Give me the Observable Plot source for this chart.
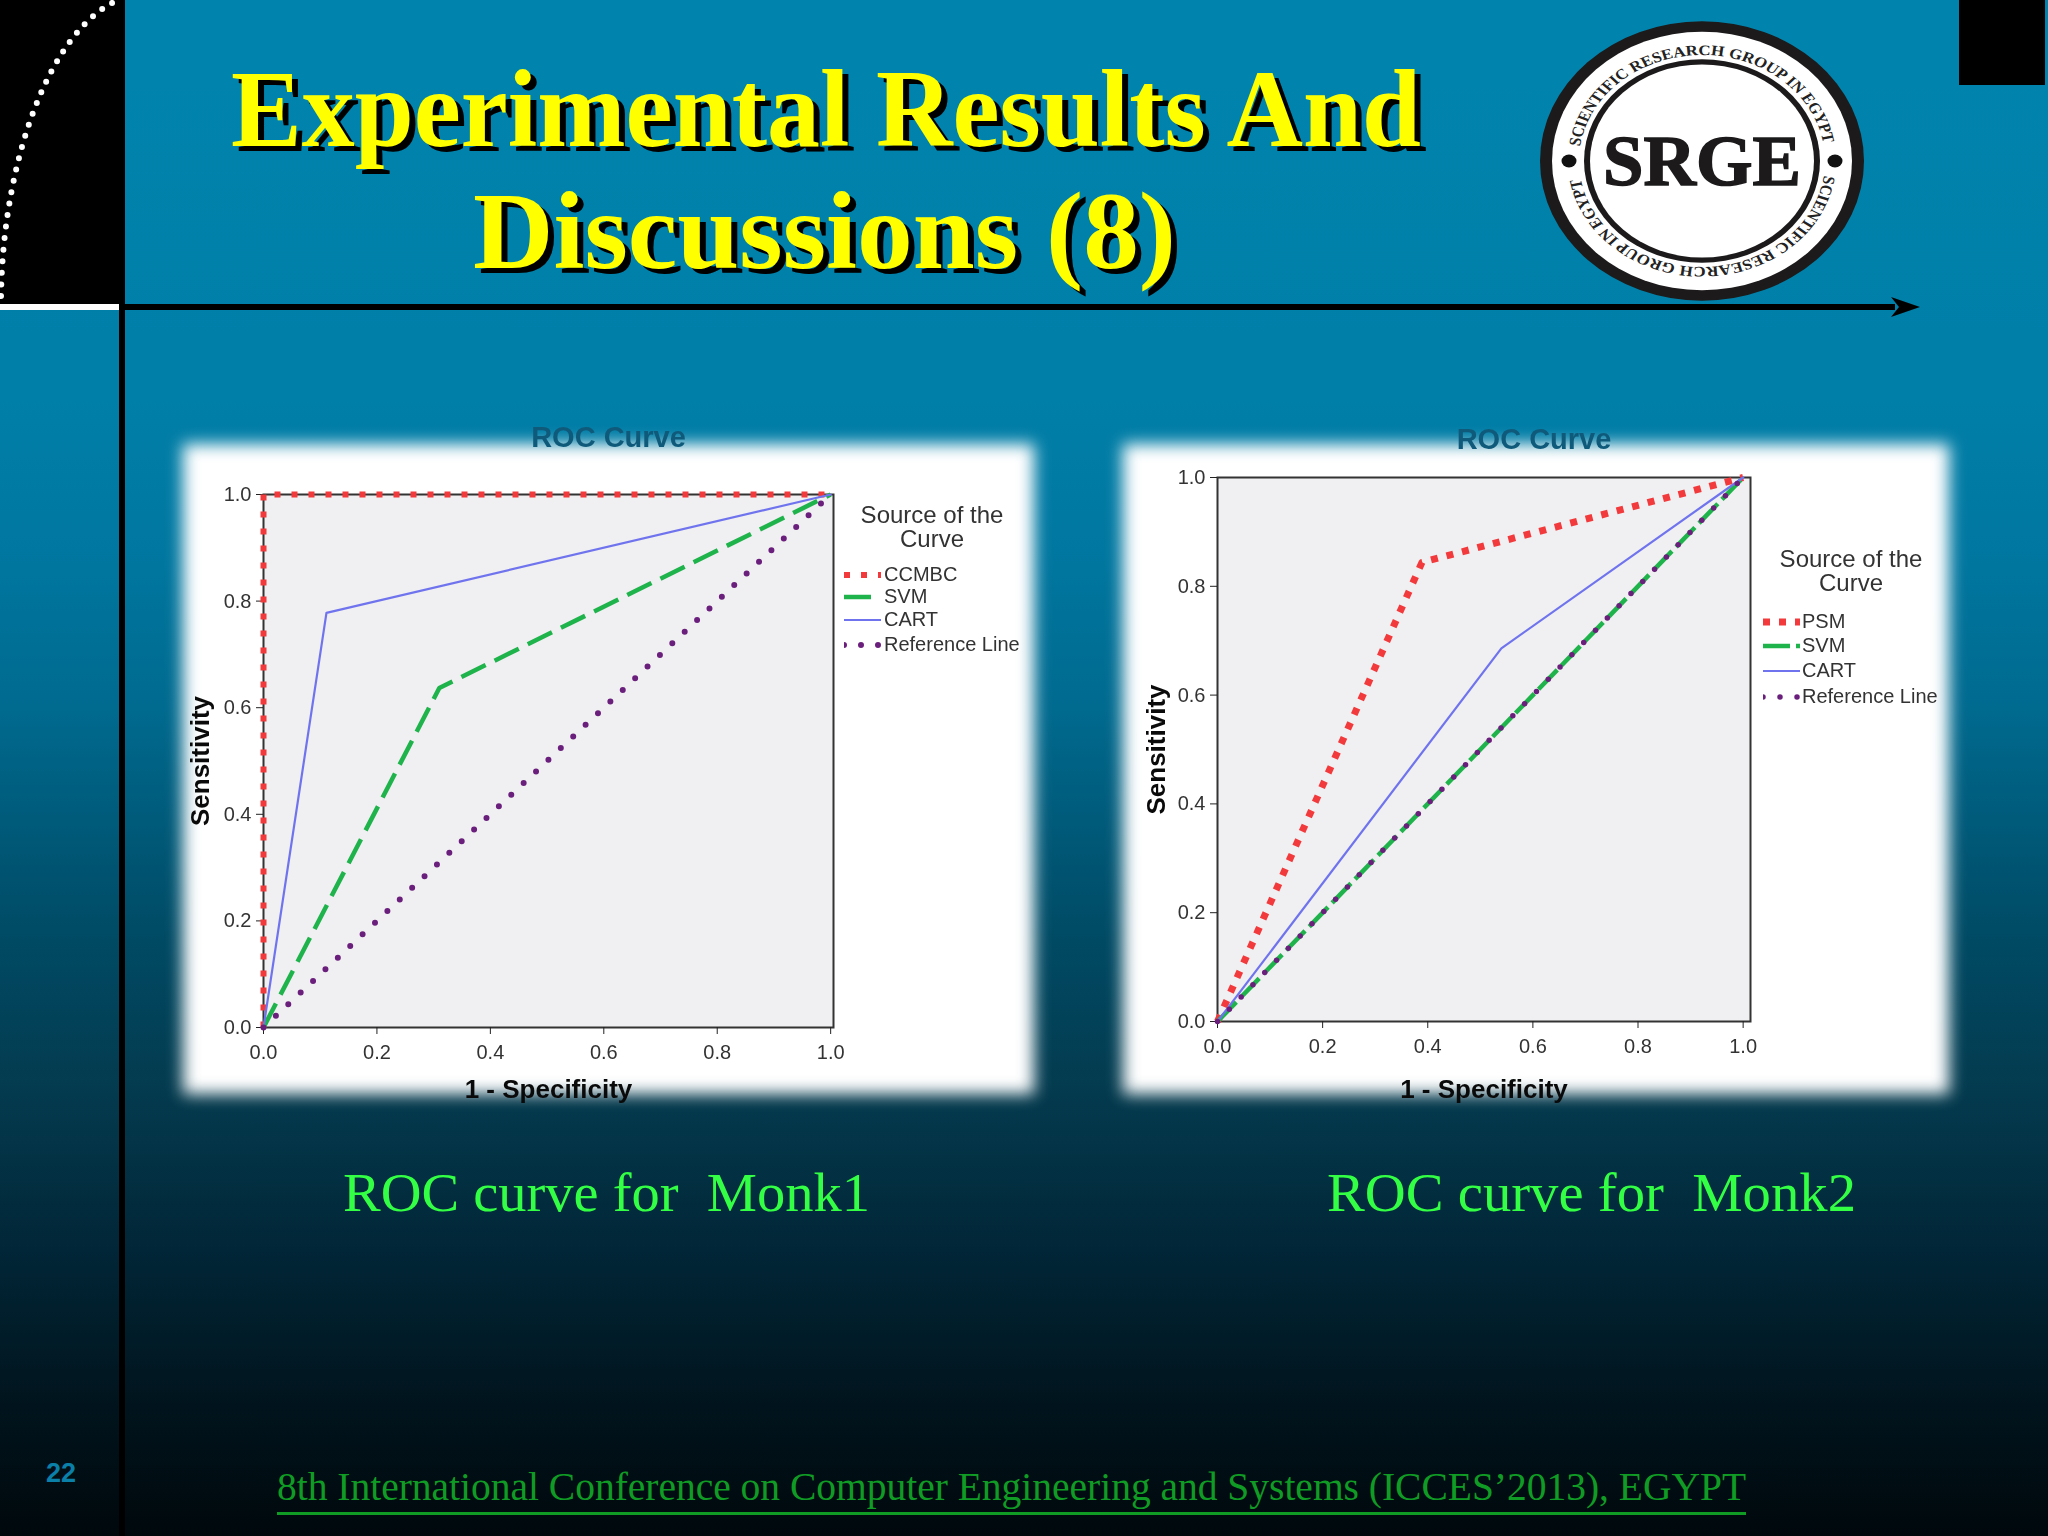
<!DOCTYPE html>
<html><head><meta charset="utf-8">
<script src="https://cdn.jsdelivr.net/npm/d3@7"></script>
<script src="https://cdn.jsdelivr.net/npm/@observablehq/plot@0.6"></script>
<style>
html,body{margin:0;padding:0;background:#000}
#page{position:relative;width:2048px;height:1536px;overflow:hidden;
 background:linear-gradient(180deg,#0084ae 0px,#007fa8 400px,#0077a0 552px,#006a8f 708px,#004a64 940px,#043a4e 1095px,#012637 1250px,#01141d 1405px,#00080c 1536px);}
#decor{position:absolute;left:0;top:0}
.card{position:absolute;background:#fff;filter:blur(8px)}
.chart{position:absolute;filter:blur(.5px)}
.chart svg{overflow:visible;background:transparent}
.chart g[aria-label="x-axis label"] text,.chart g[aria-label="y-axis label"] text{font-size:26px;font-weight:bold;fill:#0a0a0a}
.lg{position:absolute;font:20px "Liberation Sans",sans-serif;color:#333;white-space:nowrap;filter:blur(.4px)}
.lgt{position:absolute;font:24px/25px "Liberation Sans",sans-serif;color:#333;text-align:center;transform:translateX(-50%);white-space:nowrap;filter:blur(.4px)}
</style></head>
<body><div id="page">
<svg id="decor" width="2048" height="1536" viewBox="0 0 2048 1536">
 <defs>
  <path id="arcTop" d="M-123,0 A123,123 0 0 1 123,0"/>
  <path id="arcBot" d="M123,0 A123,123 0 0 1 -123,0"/>
 </defs>
 <rect x="0" y="0" width="125" height="304" fill="#000"/>
 <rect x="0" y="304" width="119" height="6" fill="#fff"/>
 <rect x="119" y="304" width="6" height="1232" fill="#000"/>
 <rect x="125" y="304" width="1770" height="6" fill="#000"/>
 <path d="M1920,307 L1891,297 L1899,307 L1891,317 Z" fill="#000"/>
 <rect x="1959" y="0" width="86" height="85" fill="#000"/>
 <path d="M1,296 C3,160 50,30 118,0" fill="none" stroke="#fff" stroke-width="6" stroke-linecap="round" stroke-dasharray="0 11.6"/>
 <g font-family="Liberation Serif,serif" font-weight="bold" font-size="111" fill="#ffff00" style="filter:drop-shadow(6px 5px 0 #000)">
  <text x="231" y="146" textLength="1190" lengthAdjust="spacingAndGlyphs">Experimental Results And</text>
  <text x="473" y="268" textLength="703" lengthAdjust="spacingAndGlyphs">Discussions (8)</text>
 </g>
 <g transform="translate(1702,161) scale(1,.862)">
  <circle r="162" fill="#1c1a1a"/>
  <circle r="150" fill="#fff"/>
  <circle r="118" fill="#1c1a1a"/>
  <circle r="112" fill="#fff"/>
  <circle cx="-133" cy="0" r="7.5" fill="#111"/>
  <circle cx="133" cy="0" r="7.5" fill="#111"/>
  <g font-family="Liberation Serif,serif" font-weight="bold" font-size="17" fill="#222">
   <text><textPath href="#arcTop" startOffset="17">SCIENTIFIC RESEARCH GROUP IN EGYPT</textPath></text>
   <text><textPath href="#arcBot" startOffset="17">SCIENTIFIC RESEARCH GROUP IN EGYPT</textPath></text>
  </g>
 </g>
 <text x="1603" y="185" textLength="198" lengthAdjust="spacingAndGlyphs" font-family="Liberation Serif,serif" font-weight="bold" font-size="72" fill="#1c1a1a" stroke="#1c1a1a" stroke-width="1.5">SRGE</text>
 <g font-family="Liberation Serif,serif" fill="#33ff44" font-size="54">
  <text x="343" y="1211" textLength="527" lengthAdjust="spacingAndGlyphs">ROC curve for&#160; Monk1</text>
  <text x="1327" y="1211" textLength="529" lengthAdjust="spacingAndGlyphs">ROC curve for&#160; Monk2</text>
 </g>
 <text x="277" y="1500" textLength="1469" lengthAdjust="spacingAndGlyphs" font-family="Liberation Serif,serif" font-size="40" fill="#109c24">8th International Conference on Computer Engineering and Systems (ICCES’2013), EGYPT</text>
 <rect x="277" y="1512" width="1469" height="3" fill="#109c24"/>
 <text x="61" y="1482" text-anchor="middle" font-family="Liberation Sans,sans-serif" font-weight="bold" font-size="27" fill="#0a7fa8">22</text>
</svg>
<div class="card" style="left:183px;top:444px;width:851px;height:650px"></div>
<div class="card" style="left:1123px;top:444px;width:826px;height:650px"></div>
<div class="chart" id="c1" style="left:183px;top:420px"></div>
<div class="chart" id="c2" style="left:1123px;top:420px"></div>
</div>
<script>
const tickValues = [0, 0.2, 0.4, 0.6, 0.8, 1];
const chartTitle = "ROC Curve";
const xLabel = "1 - Specificity";
const yLabel = "Sensitivity";
const legendTitle = ["Source of the", "Curve"];

const monk1Names = ["CCMBC", "SVM", "CART", "Reference Line"];
const monk1Fpr = [[0, 0, 1], [0, 0.31, 1], [0, 0.111, 1], [0, 1]];
const monk1Tpr = [[0, 1, 1], [0, 0.637, 1], [0, 0.778, 1], [0, 1]];

const monk2Names = ["PSM", "SVM", "CART", "Reference Line"];
const monk2Fpr = [[0, 0.389, 1], [0, 0.54, 1], [0, 0.54, 1], [0, 1]];
const monk2Tpr = [[0, 0.844, 1], [0, 0.54, 1], [0, 0.686, 1], [0, 1]];

const seriesColors = ["#f23a3c", "#1fb34c", "#6f74ee", "#6b1f7c"];

function rowsOf(xs, ys) { return xs.map((x, i) => ({x, y: ys[i]})); }

function chart(id, o) {
  const marks = [
    Plot.frame({fill: "#f0eff1", stroke: "#333", strokeWidth: 2}),
    Plot.axisX({ticks: tickValues, tickFormat: ".1f", tickSize: 7, tickPadding: 10, fontSize: 20,
      label: xLabel, labelAnchor: "center", labelArrow: "none", labelOffset: o.xo, stroke: "#222", color: "#333"}),
    Plot.axisY({ticks: tickValues, tickFormat: ".1f", tickSize: 7, tickPadding: 5, fontSize: 20,
      label: yLabel, labelAnchor: "center", labelArrow: "none", labelOffset: o.yo, stroke: "#222", color: "#333"})
  ];
  o.names.forEach((n, i) => {
    marks.push(Plot.line(rowsOf(o.fpr[i], o.tpr[i]), {x: "x", y: "y", stroke: seriesColors[i], ...o.styles[i]}));
  });
  marks.push(Plot.text([chartTitle], {frameAnchor: "top", dx: o.titleDx, dy: o.titleDy,
    fontSize: 29, fontWeight: "bold", fill: "#0f5a7a", fontFamily: "Liberation Sans, sans-serif"}));
  const p = Plot.plot({
    width: o.width, height: o.height,
    marginLeft: o.ml, marginRight: o.mr, marginTop: o.mt, marginBottom: o.mb,
    x: {domain: o.xDomain}, y: {domain: [0, 1]},
    style: {fontFamily: "Liberation Sans, sans-serif", background: "transparent"},
    marks
  });
  document.getElementById(id).appendChild(p);
}

const styles1 = [
  {strokeWidth: 6, strokeDasharray: "6 11", strokeLinecap: "butt"},
  {strokeWidth: 4.5, strokeDasharray: "27 10", strokeLinecap: "butt"},
  {strokeWidth: 2.2},
  {strokeWidth: 6, strokeDasharray: "0 17", strokeLinecap: "round"}
];
const styles2 = [
  {strokeWidth: 7, strokeDasharray: "7 9", strokeLinecap: "butt"},
  {strokeWidth: 4.5, strokeDasharray: "27 6", strokeLinecap: "butt"},
  {strokeWidth: 2.2},
  {strokeWidth: 5.5, strokeDasharray: "0 17", strokeLinecap: "round"}
];

chart("c1", {names: monk1Names, fpr: monk1Fpr, tpr: monk1Tpr, styles: styles1, xo: 70, yo: 73,
  width: 851, height: 690, ml: 80, mr: 201, mt: 74, mb: 83, xDomain: [0, 1.005], titleDx: 60, titleDy: -68});
chart("c2", {names: monk2Names, fpr: monk2Fpr, tpr: monk2Tpr, styles: styles2, xo: 76, yo: 71,
  width: 826, height: 690, ml: 94, mr: 199, mt: 57, mb: 89, xDomain: [0, 1.014], titleDx: 50, titleDy: -49});

function legend(names, styles, tx, ty, sx, tx2, ys) {
  const page = document.getElementById("page");
  legendTitle.forEach((s, i) => {
    const d = document.createElement("div"); d.className = "lgt"; d.textContent = s;
    d.style.left = tx + "px"; d.style.top = (ty + i * 24) + "px"; page.appendChild(d);
  });
  names.forEach((n, i) => {
    const d = document.createElement("div"); d.className = "lg"; d.textContent = n;
    d.style.left = tx2 + "px"; d.style.top = (ys[i] - 12) + "px"; page.appendChild(d);
    const svg = d3.create("svg").attr("width", 37).attr("height", 10)
      .style("position", "absolute").style("left", sx + "px").style("top", (ys[i] - 5) + "px");
    svg.append("line").attr("x1", 0).attr("x2", 37).attr("y1", 5).attr("y2", 5)
      .attr("stroke", seriesColors[i]).attr("stroke-width", styles[i].strokeWidth)
      .attr("stroke-dasharray", styles[i].strokeDasharray || null)
      .attr("stroke-linecap", styles[i].strokeLinecap || null);
    page.appendChild(svg.node());
  });
}
legend(monk1Names, styles1, 932, 502, 844, 884, [575, 597, 620, 645]);
legend(monk2Names, styles2, 1851, 546, 1763, 1802, [622, 646, 671, 697]);
</script>
</body></html>
